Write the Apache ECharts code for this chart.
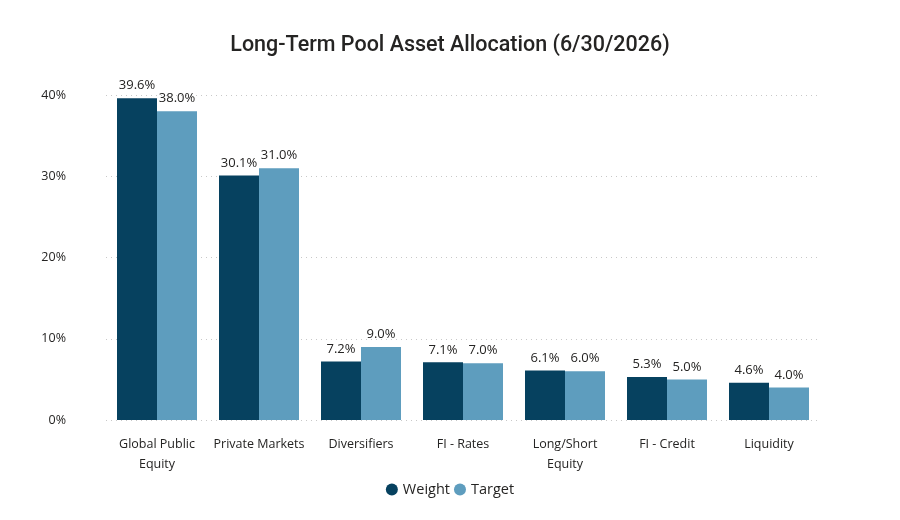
<!DOCTYPE html>
<html>
<head>
<meta charset="utf-8">
<script src="https://cdn.jsdelivr.net/npm/echarts@6/dist/echarts.min.js"></script>
<style>
	html, body { margin: 0; padding: 0; background: #fff; }
	#main { width: 900px; height: 520px; }
</style>
</head>
<body>
<div id="main"></div>
<script>
var categories = ['Global Public\nEquity', 'Private Markets', 'Diversifiers', 'FI - Rates', 'Long/Short\nEquity', 'FI - Credit', 'Liquidity'];
var weight = [39.6, 30.1, 7.2, 7.1, 6.1, 5.3, 4.6];
var target = [38.0, 31.0, 9.0, 7.0, 6.0, 5.0, 4.0];
var yTicks = [0, 10, 20, 30, 40];

var myChart = echarts.init(document.getElementById('main'));
var fontFam = '"Open Sans", "Noto Sans", sans-serif';

function pct(p) {
	return p.value.toFixed(1) + '%';
}

var option = {
	title: {
		text: 'Long-Term Pool Asset Allocation (6/30/2026)',
		left: 'center',
		top: 30,
		textStyle: {
			fontFamily: 'Roboto, sans-serif',
			fontWeight: 500,
			fontSize: 21.5,
			color: '#252423'
		}
	},
	legend: {
		bottom: 18,
		left: 'center',
		icon: 'circle',
		itemWidth: 12,
		itemHeight: 12,
		itemGap: 4,
		textStyle: { fontFamily: fontFam, fontSize: 14.5, color: '#252423' },
		data: ['Weight', 'Target']
	},
	grid: {
		left: 106,
		right: 80,
		top: 95,
		bottom: 100
	},
	xAxis: {
		type: 'category',
		data: categories,
		axisLine: { show: false },
		axisTick: { show: false },
		axisLabel: {
			interval: 0,
			margin: 14,
			lineHeight: 20,
			fontFamily: fontFam,
			fontSize: 12.5,
			color: '#252423'
		}
	},
	yAxis: {
		type: 'value',
		min: yTicks[0],
		max: yTicks[yTicks.length - 1],
		interval: 10,
		axisLabel: {
			margin: 40,
			fontFamily: fontFam,
			fontSize: 12.5,
			color: '#252423',
			formatter: '{value}%'
		},
		splitLine: {
			lineStyle: { type: [1, 4], color: '#c8c8c8' }
		}
	},
	series: [
		{
			name: 'Weight',
			type: 'bar',
			data: weight,
			barWidth: 40,
			barGap: '0%',
			itemStyle: { color: '#06415f' },
			label: {
				show: true,
				position: 'top',
				distance: 6,
				fontFamily: fontFam,
				fontSize: 13,
				color: '#252423',
				formatter: pct
			}
		},
		{
			name: 'Target',
			type: 'bar',
			data: target,
			barWidth: 40,
			itemStyle: { color: '#5e9dbe' },
			label: {
				show: true,
				position: 'top',
				distance: 6,
				fontFamily: fontFam,
				fontSize: 13,
				color: '#252423',
				formatter: pct
			}
		}
	]
};
myChart.setOption(option, true);
</script>
</body>
</html>
